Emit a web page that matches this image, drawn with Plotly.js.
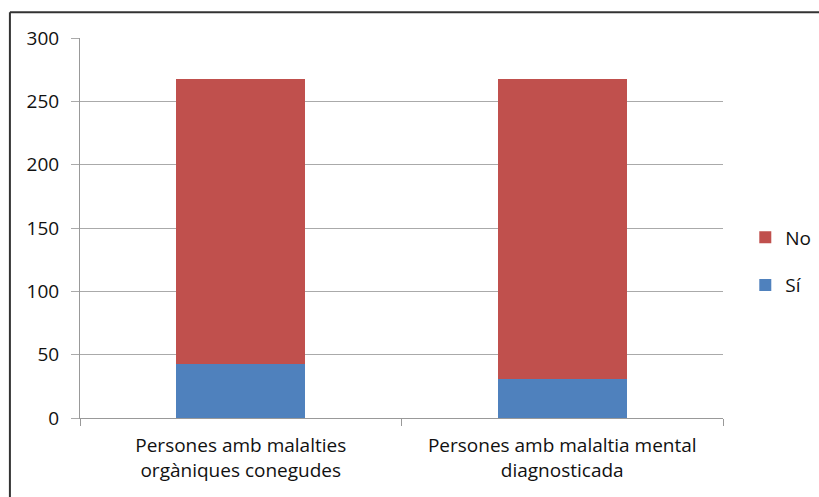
<!DOCTYPE html>
<html><head><meta charset="utf-8">
<script src="https://cdn.plot.ly/plotly-3.0.1.min.js"></script>
<style>html,body{margin:0;padding:0;background:#fff;}#chart{width:819px;height:497px;}</style>
</head><body><div id="chart"></div>
<script>
var categories = ["Persones amb malalties<br>orgàniques conegudes", "Persones amb malaltia mental<br>diagnosticada"];
var siValues = [43, 31];
var noValues = [225, 237];
var yTicks = [0, 50, 100, 150, 200, 250, 300];

var font = {family: "Open Sans, sans-serif", size: 19, color: "#111"};
var data = [
  {type: "bar", name: "Sí", x: categories, y: siValues, marker: {color: "#4F81BD"}, legendgroup: "a", legendrank: 2, hoverinfo: "y"},
  {type: "bar", name: "No", x: categories, y: noValues, marker: {color: "#C0504D"}, legendgroup: "b", legendrank: 1, hoverinfo: "y"}
];
var layout = {
  width: 819, height: 497,
  margin: {l: 80, r: 96, t: 38, b: 79},
  barmode: "stack", bargap: 0.6,
  paper_bgcolor: "#fff", plot_bgcolor: "#fff",
  font: font,
  showlegend: true,
  legend: {xref: "container", yref: "container", x: 0.91, xanchor: "left", y: 0.474, yanchor: "middle",
           traceorder: "grouped", tracegroupgap: 20, font: font, itemwidth: 30},
  xaxis: {showline: true, linecolor: "#999", linewidth: 1, ticks: "outside", tickson: "boundaries", ticklen: 7, tickcolor: "#999",
          showgrid: false, tickfont: font, ticklabelstandoff: 10, fixedrange: true},
  yaxis: {range: [0, 300], tickvals: yTicks, showline: true, linecolor: "#999", linewidth: 1, gridcolor: "#aaa", gridwidth: 1,
          ticks: "outside", ticklen: 8, tickcolor: "#aaa", tickfont: font, ticklabelstandoff: 8, zeroline: false, fixedrange: true},
  shapes: [
    {type: "line", xref: "paper", yref: "paper", x0: -0.109, x1: 1.2, y0: 1.068, y1: 1.068, line: {color: "#333", width: 2}},
    {type: "line", xref: "paper", yref: "paper", x0: -0.109, x1: -0.109, y0: 1.068, y1: -0.3, line: {color: "#333", width: 2}}
  ]
};
Plotly.newPlot("chart", data, layout, {displayModeBar: false, staticPlot: true});
</script></body></html>
